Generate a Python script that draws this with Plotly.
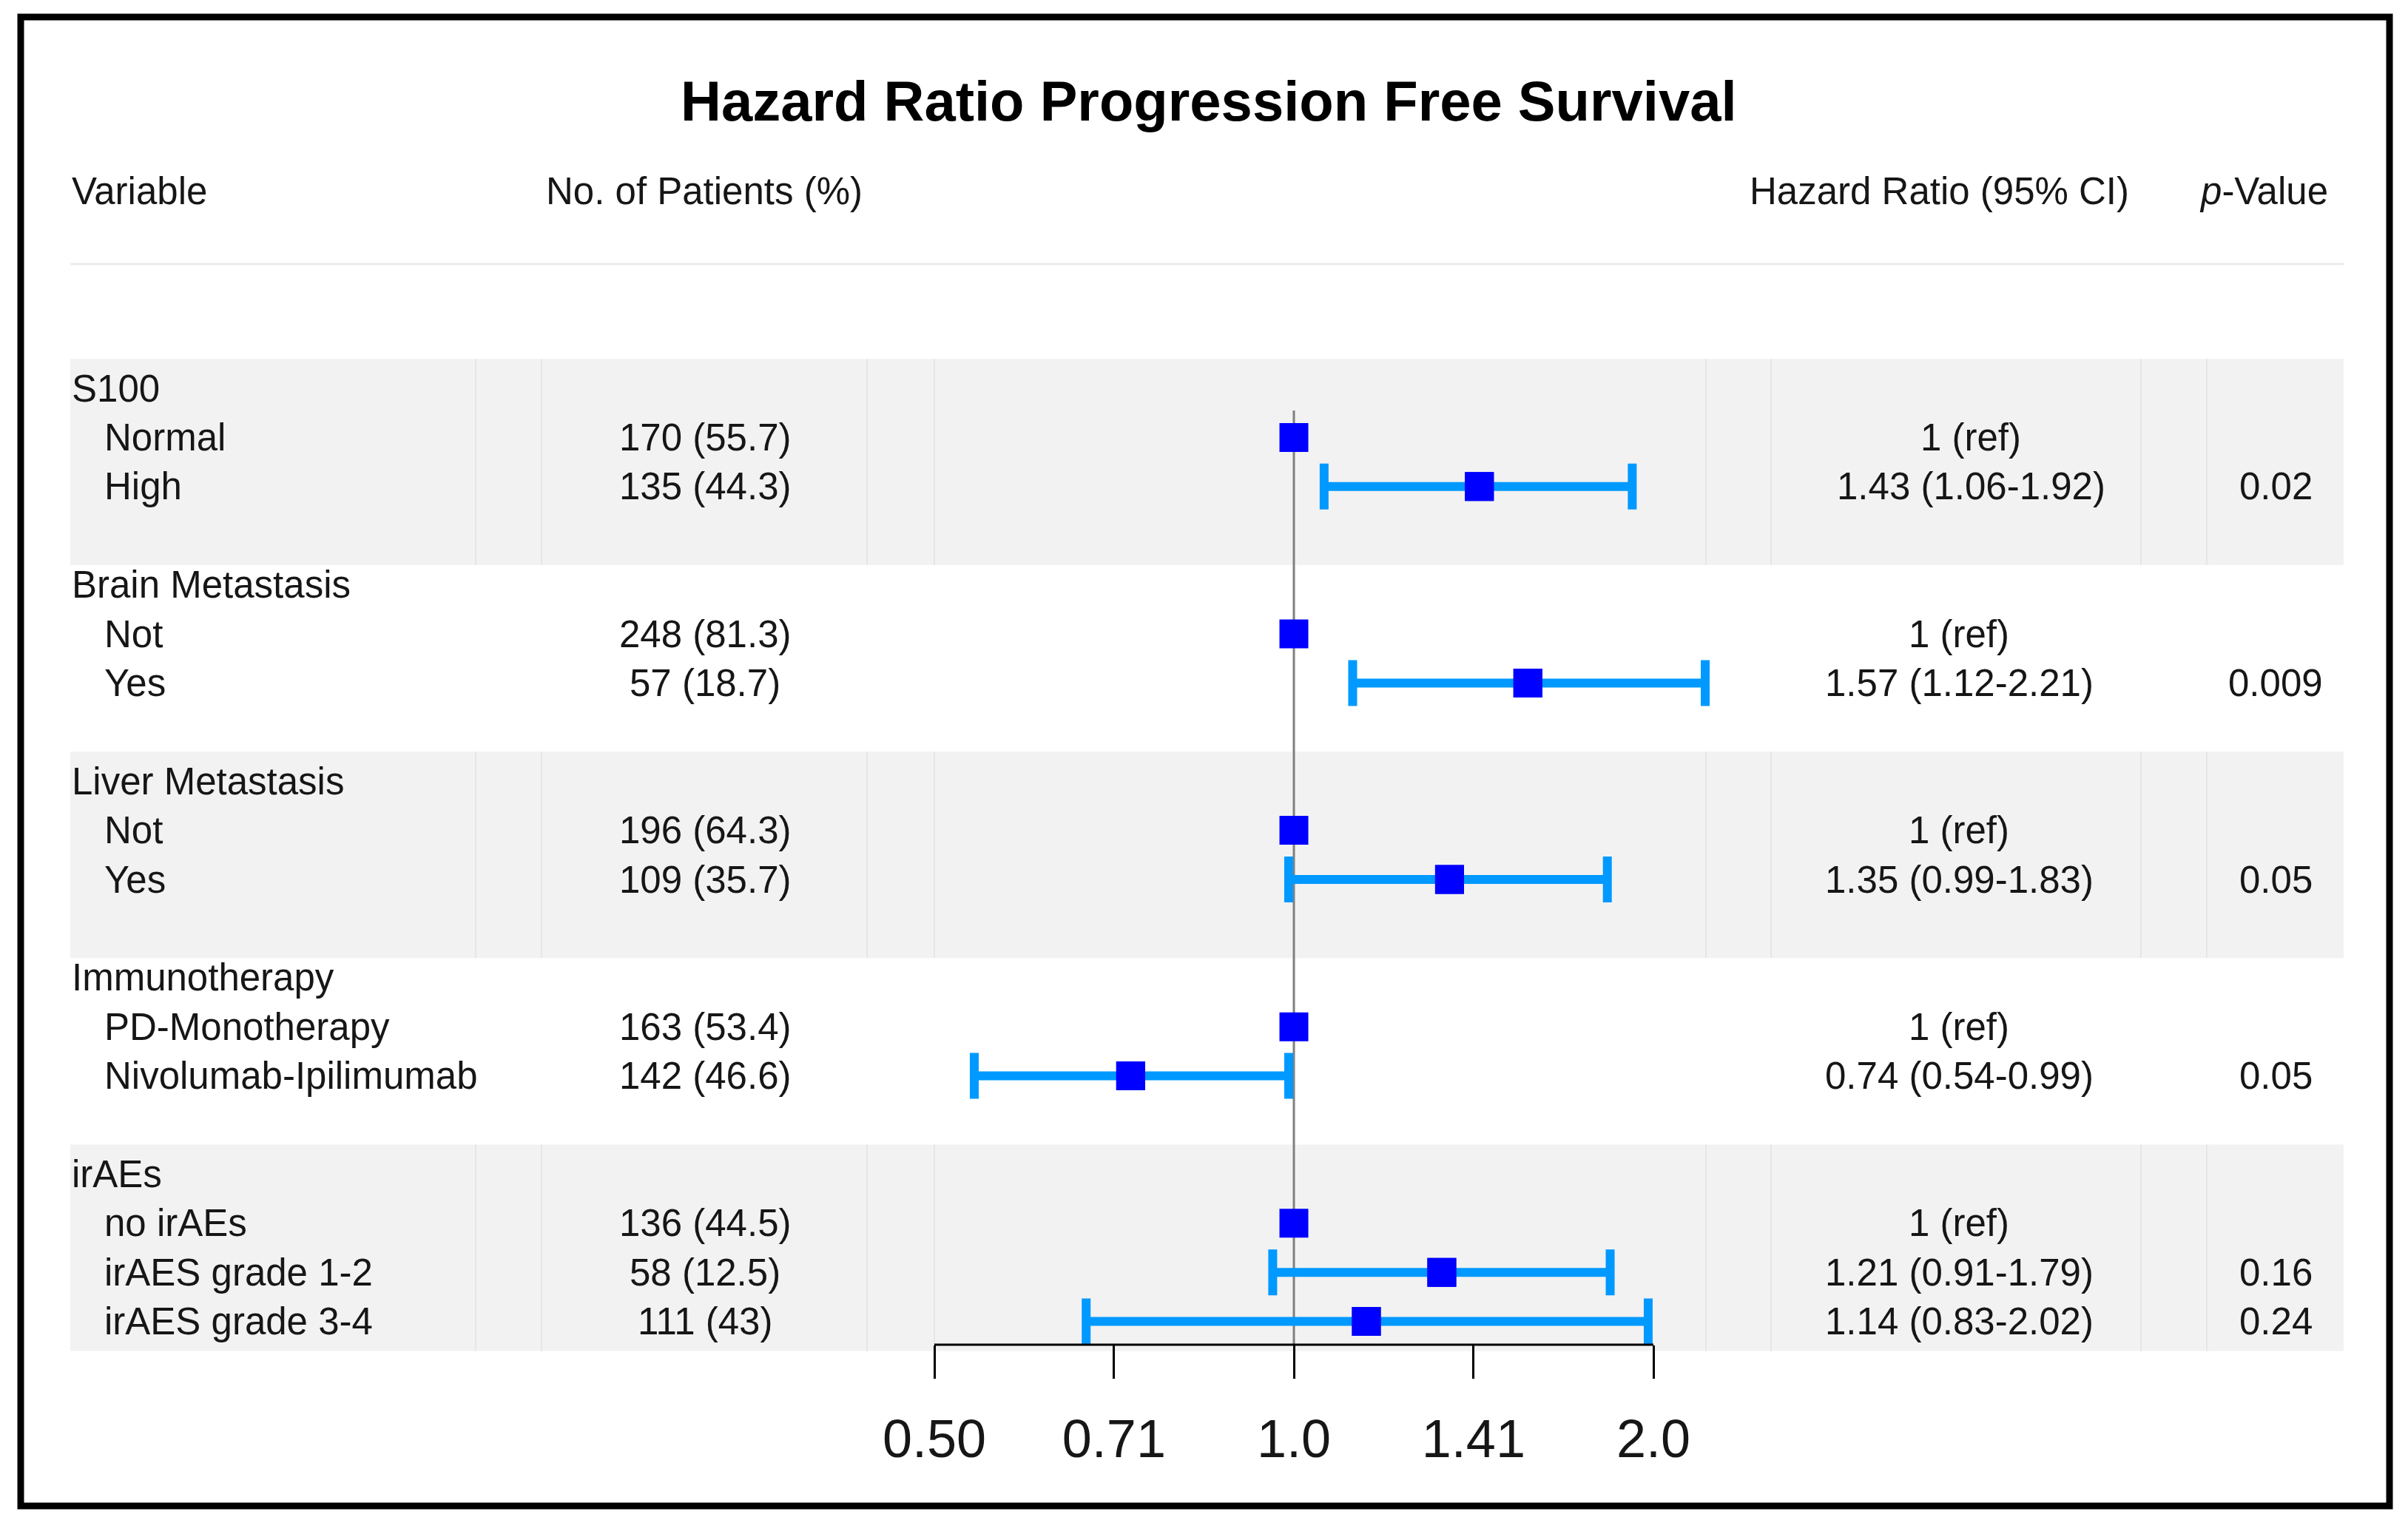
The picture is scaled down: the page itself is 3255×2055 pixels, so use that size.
import plotly.graph_objects as go

# ---------------- data ----------------
group_names = ["S100", "Brain Metastasis", "Liver Metastasis", "Immunotherapy", "irAEs"]
group_rows = [0, 4, 8, 12, 16]

level_names = ["Normal", "High",
               "Not", "Yes",
               "Not", "Yes",
               "PD-Monotherapy", "Nivolumab-Ipilimumab",
               "no irAEs", "irAES grade 1-2", "irAES grade 3-4"]
level_rows = [1, 2, 5, 6, 9, 10, 13, 14, 17, 18, 19]
level_group = [0, 0, 1, 1, 2, 2, 3, 3, 4, 4, 4]

patients = ["170 (55.7)", "135 (44.3)",
            "248 (81.3)", "57 (18.7)",
            "196 (64.3)", "109 (35.7)",
            "163 (53.4)", "142 (46.6)",
            "136 (44.5)", "58 (12.5)", "111 (43)"]

hr_labels = ["1 (ref)", "1.43 (1.06-1.92)",
             "1 (ref)", "1.57 (1.12-2.21)",
             "1 (ref)", "1.35 (0.99-1.83)",
             "1 (ref)", "0.74 (0.54-0.99)",
             "1 (ref)", "1.21 (0.91-1.79)", "1.14 (0.83-2.02)"]

p_values = ["", "0.02", "", "0.009", "", "0.05", "", "0.05", "", "0.16", "0.24"]

# reference rows (HR = 1)
ref_rows = [1, 5, 9, 13, 17]
ref_hr = [1.0, 1.0, 1.0, 1.0, 1.0]

# plotted estimates as drawn in the figure
est_rows = [2, 6, 10, 14, 18, 19]
est_hr = [1.43, 1.57, 1.35, 0.73, 1.33, 1.15]
est_lo = [1.06, 1.12, 0.99, 0.54, 0.96, 0.67]
est_hi = [1.92, 2.21, 1.83, 0.99, 1.84, 1.98]

tick_vals = [0.5, 0.707, 1.0, 1.414, 2.0]
tick_labels = ["0.50", "0.71", "1.0", "1.41", "2.0"]
axis_min, axis_max = 0.5, 2.0

headers = ["Variable", "No. of Patients (%)", "Hazard Ratio (95% CI)", "<i>p</i>-Value"]
title_text = "<b>Hazard Ratio Progression Free Survival</b>"

# ---------------- layout geometry (pixels) ----------------
W, H = 3255, 2055
ROW0, STEP = 525.0, 66.4          # pixel y of row 0 and row spacing
AXIS_Y = 1818.0                   # pixel y of the x axis line
ONE_PX, OCT_PX = 1749.0, 486.0    # pixel x of HR=1 and pixels per doubling
DOM_L, DOM_R = 1180.0, 2330.0     # pixel extent of the x-axis domain

LOG2 = 0.30103
x_range = [(DOM_L - ONE_PX) / OCT_PX * LOG2, (DOM_R - ONE_PX) / OCT_PX * LOG2]

def px_x(x):
    return x / W

def px_y(y):
    return 1 - y / H

def row_px(r):
    return ROW0 + STEP * r

FONT = "Liberation Sans, Arial, Helvetica, sans-serif"
TXT = "#161616"
BODY = 51

fig = go.Figure()

# reference line at HR = 1
fig.add_trace(go.Scatter(x=[1.0, 1.0], y=[0.45, (AXIS_Y - ROW0) / STEP],
                         mode="lines", line=dict(color="#808080", width=3),
                         hoverinfo="skip", showlegend=False))

# confidence intervals
fig.add_trace(go.Scatter(
    x=est_hr, y=est_rows, mode="markers", cliponaxis=False,
    marker=dict(symbol="square", size=39, color="#0000ff"),
    error_x=dict(type="data", symmetric=False,
                 array=[h - m for h, m in zip(est_hi, est_hr)],
                 arrayminus=[m - l for m, l in zip(est_hr, est_lo)],
                 color="#0099ff", thickness=12, width=31),
    hoverinfo="skip", showlegend=False))

# reference markers
fig.add_trace(go.Scatter(x=ref_hr, y=ref_rows, mode="markers", cliponaxis=False,
                         marker=dict(symbol="square", size=39, color="#0000ff"),
                         hoverinfo="skip", showlegend=False))
# estimate markers on top
fig.add_trace(go.Scatter(x=est_hr, y=est_rows, mode="markers", cliponaxis=False,
                         marker=dict(symbol="square", size=39, color="#0000ff"),
                         hoverinfo="skip", showlegend=False))

shapes = []
# shaded bands (groups 1, 3, 5)
for g in [0, 2, 4]:
    r0 = group_rows[g]
    r1 = r0 + 3
    y0 = row_px(r0) - 0.6 * STEP
    y1 = row_px(r1) + 0.6 * STEP
    shapes.append(dict(type="rect", xref="paper", yref="paper",
                       x0=px_x(95), x1=px_x(3168), y0=px_y(y1), y1=px_y(y0),
                       fillcolor="#f2f2f2", line=dict(width=0), layer="below"))
    for sx in [643, 732, 1172, 1263, 2306, 2394, 2894, 2983]:
        shapes.append(dict(type="line", xref="paper", yref="paper",
                           x0=px_x(sx), x1=px_x(sx), y0=px_y(y1), y1=px_y(y0),
                           line=dict(color="#e6e6e6", width=2), layer="below"))

# header rule
shapes.append(dict(type="line", xref="paper", yref="paper",
                   x0=px_x(95), x1=px_x(3168), y0=px_y(357), y1=px_y(357),
                   line=dict(color="#ebebeb", width=3), layer="below"))
# x axis line between the first and last tick
shapes.append(dict(type="line", xref="x", yref="paper",
                   x0=axis_min, x1=axis_max, y0=px_y(AXIS_Y), y1=px_y(AXIS_Y),
                   line=dict(color="#000000", width=3), layer="above"))
# outer frame
shapes.append(dict(type="rect", xref="paper", yref="paper",
                   x0=px_x(28), x1=px_x(3230), y0=px_y(2036), y1=px_y(23),
                   line=dict(color="#000000", width=9), fillcolor="rgba(0,0,0,0)",
                   layer="above"))

ann = []
ann.append(dict(text=title_text, x=px_x(1634), y=px_y(137), xref="paper", yref="paper",
                xanchor="center", yanchor="middle", showarrow=False,
                font=dict(family=FONT, size=76, color="#000")))

header_x = [95, 952, 2621, 3060]
header_anchor = ["left", "center", "center", "center"]
for t, hx, a in zip(headers, header_x, header_anchor):
    ann.append(dict(text=t, x=px_x(hx), y=px_y(258), xref="paper", yref="paper",
                    xanchor=a, yanchor="middle", showarrow=False,
                    font=dict(family=FONT, size=BODY, color=TXT)))

for name, r in zip(group_names, group_rows):
    ann.append(dict(text=name, x=px_x(95), y=r, xref="paper", yref="y",
                    xanchor="left", yanchor="middle", showarrow=False,
                    font=dict(family=FONT, size=BODY, color=TXT)))

hr_col_x = [2664, 2648, 2648, 2648, 2648]
for name, r, g, n, h, p in zip(level_names, level_rows, level_group, patients, hr_labels, p_values):
    ann.append(dict(text=name, x=px_x(139), y=r, xref="paper", yref="y",
                    xanchor="left", yanchor="middle", showarrow=False,
                    font=dict(family=FONT, size=BODY, color=TXT)))
    ann.append(dict(text=n, x=px_x(953), y=r, xref="paper", yref="y",
                    xanchor="center", yanchor="middle", showarrow=False,
                    font=dict(family=FONT, size=BODY, color=TXT)))
    ann.append(dict(text=h, x=px_x(hr_col_x[g]), y=r, xref="paper", yref="y",
                    xanchor="center", yanchor="middle", showarrow=False,
                    font=dict(family=FONT, size=BODY, color=TXT)))
    if p:
        ann.append(dict(text=p, x=px_x(3076), y=r, xref="paper", yref="y",
                        xanchor="center", yanchor="middle", showarrow=False,
                        font=dict(family=FONT, size=BODY, color=TXT)))

fig.update_layout(
    width=W, height=H, autosize=False,
    margin=dict(l=0, r=0, t=0, b=0, pad=0),
    paper_bgcolor="white", plot_bgcolor="rgba(0,0,0,0)",
    showlegend=False,
    shapes=shapes, annotations=ann,
    xaxis=dict(type="log", domain=[DOM_L / W, DOM_R / W],
               range=x_range,
               tickvals=tick_vals, ticktext=tick_labels,
               showline=False,
               ticks="outside", ticklen=45, tickwidth=3, tickcolor="#000",
               ticklabelstandoff=20,
               tickfont=dict(family=FONT, size=72, color=TXT),
               showgrid=False, zeroline=False, fixedrange=True),
    yaxis=dict(domain=[1 - AXIS_Y / H, 1],
               range=[(AXIS_Y - ROW0) / STEP, -ROW0 / STEP],
               showticklabels=False, showgrid=False, zeroline=False,
               showline=False, ticks="", fixedrange=True),
)

fig.write_html("out.html", config={"displayModeBar": False, "responsive": False},
               default_width="3255px", default_height="2055px",
               post_script=("document.documentElement.style.margin='0';"
                            "document.body.style.margin='0';"
                            "document.documentElement.style.overflow='hidden';"
                            "document.body.style.overflow='hidden';"))
